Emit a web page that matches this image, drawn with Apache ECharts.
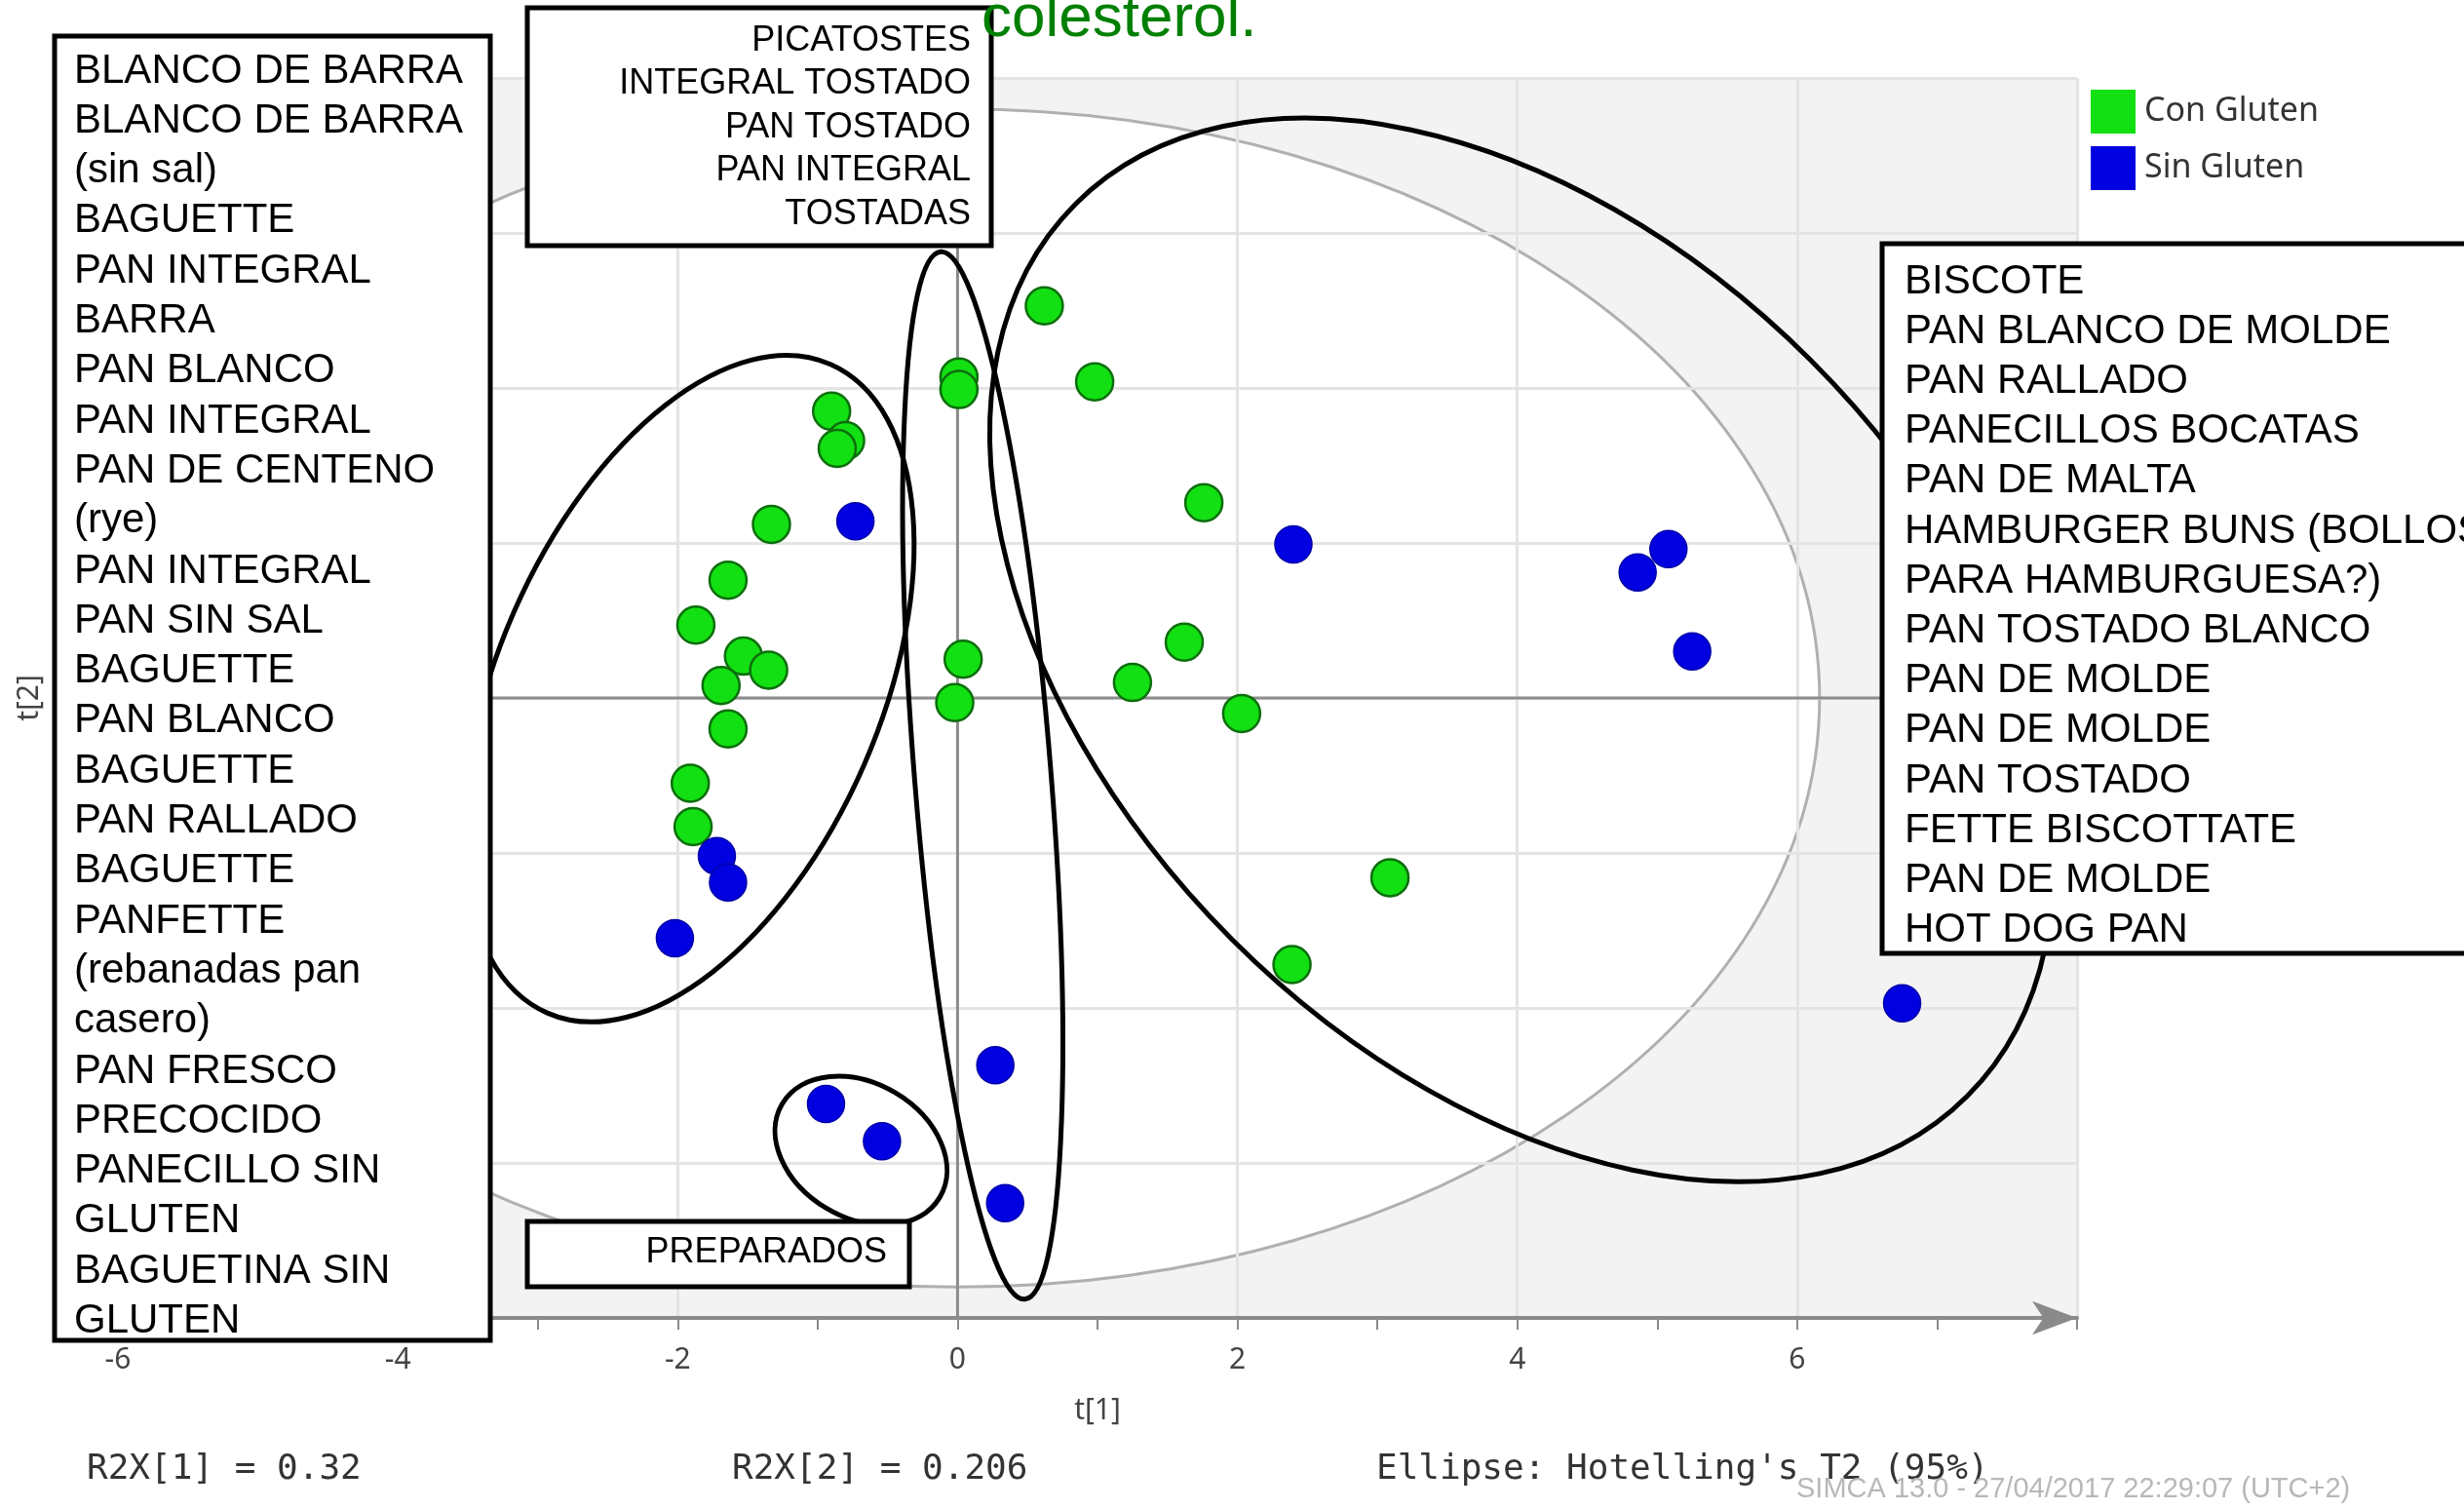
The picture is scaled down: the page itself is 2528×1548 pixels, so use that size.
<!DOCTYPE html>
<html>
<head>
<meta charset="utf-8">
<script src="https://cdn.jsdelivr.net/npm/echarts@6/dist/echarts.min.js"></script>
<style>
html,body{margin:0;padding:0;background:#fff;}
#c{width:2528px;height:1548px;}
</style>
</head>
<body>
<div id="c"></div>
<script>
// ---- data (t[1], t[2] scores) ----
var conGlutenX = [0.62, 0.01, 0.01, 0.98, -0.90, -0.80, -0.86, -1.33, 1.76, -1.64, -1.87, -1.53, -1.35, -1.69, 0.04, -0.02, 1.62, 1.25, 2.03, -1.64, -1.91, -1.89, 3.09, 2.39];
var conGlutenY = [2.53, 2.07, 1.99, 2.04, 1.85, 1.66, 1.61, 1.12, 1.26, 0.76, 0.47, 0.27, 0.18, 0.08, 0.25, -0.03, 0.36, 0.10, -0.10, -0.20, -0.55, -0.83, -1.16, -1.72];
var sinGlutenX = [-0.73, 2.40, 5.08, 4.86, 5.25, -1.72, -1.64, -2.02, 0.27, -0.94, -0.54, 0.34, 6.75];
var sinGlutenY = [1.14, 0.99, 0.96, 0.81, 0.30, -1.02, -1.19, -1.55, -2.37, -2.62, -2.86, -3.26, -1.97];
var seriesNames = ['Con Gluten', 'Sin Gluten'];
var xTickLabels = ['-6', '-4', '-2', '0', '2', '4', '6'];
var hotellingSemiAxes = [6.16, 3.8];  // 95% T2 ellipse in t[1], t[2] units

// ---- annotation texts ----
var titleText = 'colesterol.';
var leftBoxLines = ['BLANCO DE BARRA', 'BLANCO DE BARRA', '(sin sal)', 'BAGUETTE', 'PAN INTEGRAL', 'BARRA', 'PAN BLANCO', 'PAN INTEGRAL', 'PAN DE CENTENO', '(rye)', 'PAN INTEGRAL', 'PAN SIN SAL', 'BAGUETTE', 'PAN BLANCO', 'BAGUETTE', 'PAN RALLADO', 'BAGUETTE', 'PANFETTE', '(rebanadas pan', 'casero)', 'PAN FRESCO', 'PRECOCIDO', 'PANECILLO SIN', 'GLUTEN', 'BAGUETINA SIN', 'GLUTEN'];
var topBoxLines = ['PICATOSTES', 'INTEGRAL TOSTADO', 'PAN TOSTADO', 'PAN INTEGRAL', 'TOSTADAS'];
var rightBoxLines = ['BISCOTE', 'PAN BLANCO DE MOLDE', 'PAN RALLADO', 'PANECILLOS BOCATAS', 'PAN DE MALTA', 'HAMBURGER BUNS (BOLLOS', 'PARA HAMBURGUESA?)', 'PAN TOSTADO BLANCO', 'PAN DE MOLDE', 'PAN DE MOLDE', 'PAN TOSTADO', 'FETTE BISCOTTATE', 'PAN DE MOLDE', 'HOT DOG PAN'];
var bottomBoxLines = ['PREPARADOS'];
var footerTexts = ['R2X[1] = 0.32', 'R2X[2] = 0.206', "Ellipse: Hotelling's T2 (95%)"];
var stampText = 'SIMCA 13.0 - 27/04/2017 22:29:07 (UTC+2)';
// hand-drawn group ellipses: centre in data units
var groupCentersX = [-1.92, 0.18, 4.03, -0.69];
var groupCentersY = [0.06, -0.50, 0.31, -2.92];

function pairs(xs, ys) { return xs.map(function (x, i) { return [x, ys[i]]; }); }

var chart = echarts.init(document.getElementById('c'), null, {renderer: 'canvas'});
var monoFont = 'DejaVu Sans Mono';
var sansFont = 'Liberation Sans';

var option = {
  animation: false,
  backgroundColor: '#ffffff',
  grid: {left: 121, right: 397, top: 80, bottom: 196, containLabel: false, outerBoundsMode: 'none'},
  legend: {
    orient: 'vertical', left: 2140, top: 87,
    itemWidth: 46, itemHeight: 45, itemGap: 13, icon: 'rect',
    itemStyle: {borderWidth: 0},
    textStyle: {fontSize: 34, color: '#333', fontFamily: 'Noto Sans', padding: [0, 0, 0, 4]},
    data: seriesNames
  },
  xAxis: [{
    type: 'value', min: -6, max: 8, interval: 1,
    name: 't[1]', nameLocation: 'middle', nameGap: 80,
    nameTextStyle: {fontSize: 30, color: '#444', fontFamily: 'Noto Sans'},
    axisLine: {show: true, onZero: false, lineStyle: {color: '#8a8a8a', width: 4}, symbol: ['none', 'arrow'], symbolSize: [26, 46]},
    axisTick: {show: true, length: 12, lineStyle: {color: '#8a8a8a', width: 2}},
    axisLabel: {margin: 28, fontSize: 30, color: '#444', fontFamily: 'Noto Sans',
      formatter: function (v) { var s = String(v); return xTickLabels.indexOf(s) >= 0 ? s : ''; }},
    splitLine: {show: false}
  }, {
    type: 'value', min: -6, max: 8, interval: 2, position: 'top',
    axisLine: {show: false, onZero: false}, axisTick: {show: false}, axisLabel: {show: false},
    splitLine: {show: true, lineStyle: {color: '#e4e4e4', width: 3}}
  }],
  yAxis: {
    type: 'value', min: -4, max: 4, interval: 1,
    name: 't[2]', nameLocation: 'middle', nameGap: 76, nameRotate: 90,
    nameTextStyle: {fontSize: 30, color: '#444', fontFamily: 'Noto Sans'},
    axisLine: {show: false, onZero: false}, axisTick: {show: false}, axisLabel: {show: false},
    splitLine: {show: true, lineStyle: {color: '#e4e4e4', width: 3}}
  },
  series: [{
    name: seriesNames[0], type: 'scatter', symbol: 'circle', symbolSize: 38,
    itemStyle: {color: '#12e012', borderColor: '#0c6e0c', borderWidth: 2.5, opacity: 1},
    data: pairs(conGlutenX, conGlutenY), z: 3
  }, {
    name: seriesNames[1], type: 'scatter', symbol: 'circle', symbolSize: 38,
    itemStyle: {color: '#0000e0', borderColor: '#0000a8', borderWidth: 1.5, opacity: 1},
    data: pairs(sinGlutenX, sinGlutenY), z: 3
  }]
};
chart.setOption(option);

// ---- overlay drawn from the chart's own scales ----
function px(x, y) { return chart.convertToPixel({xAxisIndex: 0, yAxisIndex: 0}, [x, y]); }
var tl = px(-6, 4), br = px(8, -4), o = px(0, 0), u = px(1, -1);
var ux = u[0] - o[0], uy = u[1] - o[1];

var els = [];
// plot background (outside Hotelling ellipse)
els.push({type: 'rect', z: -10, silent: true, shape: {x: tl[0], y: tl[1], width: br[0] - tl[0], height: br[1] - tl[1]}, style: {fill: '#f3f3f3'}});
// Hotelling T2 ellipse
els.push({type: 'ellipse', z: -9, silent: true, shape: {cx: o[0], cy: o[1], rx: hotellingSemiAxes[0] * ux, ry: hotellingSemiAxes[1] * uy},
  style: {fill: '#ffffff', stroke: '#b0b0b0', lineWidth: 3}});
// zero lines
els.push({type: 'line', z: 1, silent: true, shape: {x1: o[0], y1: tl[1], x2: o[0], y2: br[1]}, style: {stroke: '#8c8c8c', lineWidth: 3}});
els.push({type: 'line', z: 1, silent: true, shape: {x1: tl[0], y1: o[1], x2: br[0], y2: o[1]}, style: {stroke: '#8c8c8c', lineWidth: 3}});

// hand-drawn black ellipses (radii in px, rotation in deg)
var groupShape = [[363, 196, 66.4], [70, 539, 4.6], [647, 420, -45], [94, 69, -30.6]];
groupCentersX.forEach(function (cx, i) {
  var p = px(cx, groupCentersY[i]);
  var g = groupShape[i];
  els.push({type: 'ellipse', z: 10, silent: true, x: p[0], y: p[1], rotation: g[2] * Math.PI / 180,
    shape: {cx: 0, cy: 0, rx: g[0], ry: g[1]}, style: {fill: 'none', stroke: '#000', lineWidth: 5}});
});

function textLine(t, x, y, size, align, family, color, z) {
  return {type: 'text', z: z || 21, silent: true, x: x, y: y,
    style: {text: t, fontSize: size, fontFamily: family || sansFont, fill: color || '#000',
      align: align || 'left', textAlign: align || 'left', verticalAlign: 'middle', textVerticalAlign: 'middle'}};
}
function box(x, y, w, h) {
  return {type: 'rect', z: 20, silent: true, shape: {x: x, y: y, width: w, height: h}, style: {fill: '#fff', stroke: '#000', lineWidth: 5}};
}
// left box
els.push(box(56, 37, 447, 1338));
leftBoxLines.forEach(function (t, i) { els.push(textLine(t, 76, 73 + i * 51.3, 42)); });
// top box
els.push(box(541, 8, 476, 244));
topBoxLines.forEach(function (t, i) { els.push(textLine(t, 996, 42 + i * 44.5, 36, 'right')); });
// right box
els.push(box(1931, 250, 700, 728));
rightBoxLines.forEach(function (t, i) { els.push(textLine(t, 1954, 289 + i * 51.2, 42)); });
// bottom box
els.push(box(541, 1253, 392, 67));
bottomBoxLines.forEach(function (t) { els.push(textLine(t, 910, 1285, 36, 'right')); });
// title fragment
els.push(textLine(titleText, 1007, 20, 62, 'left', sansFont, '#008000', 22));
// footer
var footerX = [89, 751, 1412];
footerTexts.forEach(function (t, i) { els.push(textLine(t, footerX[i], 1508, 36, 'left', monoFont, '#333')); });
els.push(textLine(stampText, 1843, 1528, 29, 'left', sansFont, '#b8b8b8'));

chart.setOption({graphic: {elements: els}});
</script>
</body>
</html>
